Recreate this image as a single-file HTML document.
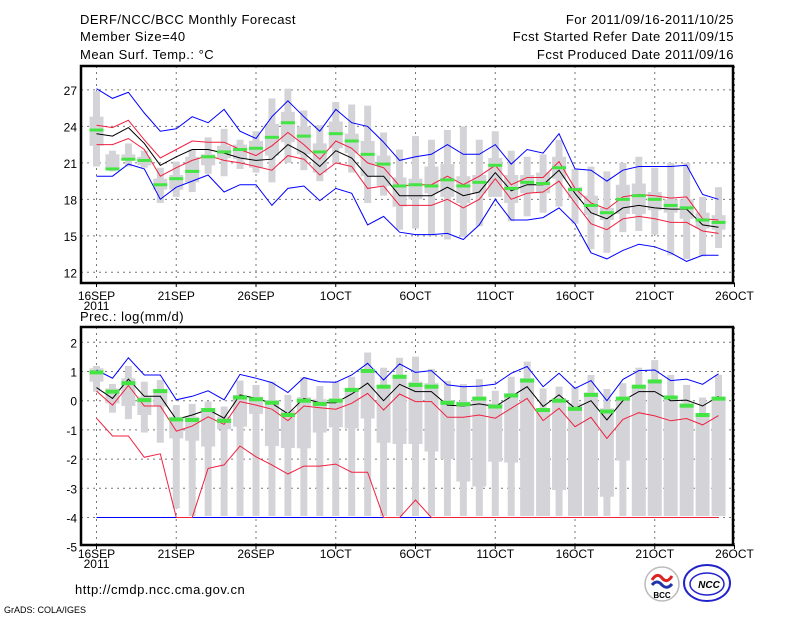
<!DOCTYPE html>
<html><head><meta charset="utf-8">
<style>
html,body{margin:0;padding:0;background:#fff;}
svg{display:block;}
text{font-family:"Liberation Sans",sans-serif;fill:#000;}
.hdr{letter-spacing:0.5px;}
</style></head>
<body>
<svg id="chart" width="800" height="618" viewBox="0 0 800 618" xmlns="http://www.w3.org/2000/svg">
<rect x="0" y="0" width="800" height="618" fill="#fff"/>
<text class="hdr" x="80" y="24" font-size="13">DERF/NCC/BCC Monthly Forecast</text>
<text class="hdr" x="80" y="41" font-size="13">Member Size=40</text>
<text class="hdr" x="80" y="59" font-size="13">Mean Surf. Temp.: °C</text>
<text class="hdr" x="734" y="24" font-size="13" text-anchor="end">For 2011/09/16-2011/10/25</text>
<text class="hdr" x="734" y="41" font-size="13" text-anchor="end">Fcst Started Refer Date 2011/09/15</text>
<text class="hdr" x="734" y="59" font-size="13" text-anchor="end">Fcst Produced Date 2011/09/16</text>
<text class="hdr" x="80" y="321" font-size="13">Prec.: log(mm/d)</text>
<text class="hdr" x="75" y="594" font-size="13">http://cmdp.ncc.cma.gov.cn</text>
<text x="4" y="613" font-size="9">GrADS: COLA/IGES</text>
<g>
<circle cx="662" cy="584" r="17" fill="#fff" stroke="#bbb" stroke-width="1.5"/>
<path d="M652 580 q5 -8 10 -2 q5 6 10 -2" fill="none" stroke="#d22" stroke-width="3"/>
<path d="M652 585 q5 -6 10 0 q5 5 10 -1" fill="none" stroke="#23a" stroke-width="3"/>
<text x="662" y="598" font-size="8" font-weight="bold" text-anchor="middle" fill="#123">BCC</text>
</g>
<g>
<ellipse cx="707" cy="583" rx="23" ry="18" fill="#fff" stroke="#22c" stroke-width="2"/>
<ellipse cx="707" cy="584" rx="17" ry="11" fill="none" stroke="#22c" stroke-width="1.5"/>
<text x="709" y="588" font-size="10" font-weight="bold" font-style="italic" text-anchor="middle" fill="#22c">NCC</text>
</g>
<g id="top"></g>
<g id="bot"></g>
</svg>
<script>
const dayLabels=["16SEP","21SEP","26SEP","1OCT","6OCT","11OCT","16OCT","21OCT","26OCT"];
const tTicks=[12,15,18,21,24,27];
const bTicks=[-5,-4,-3,-2,-1,0,1,2];
// Temperature series
const tBlueHi=[27.1,26.3,26.8,25.1,23.6,23.8,24.8,24.3,25.4,23.6,23.0,24.8,26.1,24.8,23.6,25.4,24.3,24.0,22.7,21.2,21.5,21.7,22.5,21.7,21.7,22.5,20.9,22.1,21.8,23.4,20.5,20.4,19.5,20.4,20.7,20.7,20.7,20.8,18.4,18.0];
const tBlueLo=[19.9,19.9,20.9,20.5,18.0,19.0,19.5,20.0,18.6,19.2,19.2,17.5,18.9,19.1,17.9,18.9,18.5,15.9,16.6,15.3,15.1,15.1,15.2,14.7,15.9,18.0,16.3,16.3,16.5,17.3,16.0,13.6,13.1,13.8,14.3,14.1,13.6,12.9,13.4,13.4];
const tBlack=[23.4,23.2,23.9,22.6,20.8,21.5,22.1,22.1,21.8,21.4,21.2,21.3,22.5,21.8,20.7,22.0,21.4,19.9,19.9,18.3,18.3,18.3,19.0,18.3,18.6,20.2,18.7,19.2,19.2,20.4,18.5,16.9,16.4,17.3,17.5,17.3,17.2,17.2,15.9,15.7];
const tRedHi=[24.1,23.9,24.5,22.9,21.4,22.1,22.8,22.7,22.7,22.1,21.6,22.4,23.5,22.5,21.3,22.8,22.2,21.0,20.6,19.1,19.2,19.2,19.9,19.2,19.9,20.8,19.2,19.8,19.8,21.1,18.9,17.7,17.2,18.2,18.4,18.3,18.1,18.2,16.4,16.3];
const tRedLo=[22.5,22.5,23.0,22.1,19.9,20.6,21.2,21.6,21.2,21.0,20.7,20.4,21.6,21.3,20.0,21.0,20.7,18.9,19.1,17.5,17.5,17.5,18.0,17.3,18.0,19.7,18.0,18.5,18.6,19.5,17.7,16.0,15.5,16.4,16.6,16.4,16.1,16.1,15.4,15.2];
const tGreen=[23.7,20.5,21.3,21.2,19.2,19.7,20.3,21.5,21.9,22.1,22.2,23.1,24.3,23.2,21.9,23.4,22.8,21.7,20.9,19.1,19.2,19.1,19.6,19.1,19.4,20.8,18.9,19.4,19.3,20.6,18.8,17.5,16.9,18.0,18.3,18.0,17.5,17.3,16.3,16.1];
const tMax=[26.9,22.0,22.6,22.0,20.6,21.1,22.1,23.1,23.8,22.9,23.6,26.3,27.1,25.3,24.1,26.0,25.8,25.7,23.5,22.1,23.2,22.9,23.7,24.0,22.9,23.6,22.0,21.5,21.7,22.9,20.5,20.7,20.3,21.0,21.5,20.6,21.0,21.0,18.2,19.0];
const tMin=[20.7,20.3,20.7,20.6,17.7,18.2,18.6,20.1,19.9,20.5,20.2,19.4,21.0,20.4,19.5,20.9,20.2,17.7,18.3,15.5,15.6,15.0,14.7,14.9,15.8,18.4,16.2,16.6,16.9,17.4,16.0,13.9,13.6,15.3,15.4,15.1,13.4,13.1,13.3,14.0];
const tQ3=[24.8,21.7,21.7,21.5,19.7,20.0,21.5,21.7,22.4,22.5,22.8,24.2,25.2,24.0,22.6,24.4,23.4,22.8,21.6,19.8,19.7,20.7,20.9,19.9,20.0,21.4,20.0,20.0,20.2,21.5,19.0,18.3,17.3,19.2,19.3,18.6,18.0,18.0,16.9,16.7];
const tQ1=[22.4,20.6,21.2,20.8,18.8,18.8,19.4,20.8,21.4,21.3,20.6,21.6,22.7,21.7,20.2,22.2,21.8,19.9,19.1,17.4,18.0,18.5,18.2,17.7,18.5,18.2,17.7,18.5,18.5,19.7,18.1,16.7,16.3,16.8,16.8,17.1,16.9,16.4,15.6,15.5];
// Precipitation series
const pBlueHi=[1.05,0.77,1.47,0.88,0.88,0.03,0.15,0.34,0.03,0.9,0.77,0.62,0.28,0.79,0.65,0.63,0.88,1.28,0.71,1.26,0.97,1.03,0.54,0.48,0.5,0.57,0.94,1.17,0.48,0.94,0.42,0.69,0.0,0.73,1.03,1.05,0.69,0.74,0.56,0.92];
const pBlueLo=[-4,-4,-4,-4,-4,-4,-4,-4,-4,-4,-4,-4,-4,-4,-4,-4,-4,-4,-4,-4,-4,-4,-4,-4,-4,-4,-4,-4,-4,-4,-4,-4,-4,-4,-4,-4,-4,-4,-4,-4];
const pBlack=[0.45,0.08,0.74,0.15,0.15,-0.64,-0.49,-0.3,-0.6,0.2,0.08,-0.09,-0.45,0.08,-0.07,-0.07,0.23,0.6,0.0,0.56,0.31,0.31,-0.15,-0.18,-0.11,-0.2,0.14,0.48,-0.2,0.2,-0.26,0.0,-0.66,0.0,0.31,0.31,0.0,0.02,-0.18,0.15];
const pRedHi=[0.33,-0.15,0.52,-0.18,-0.18,-1.04,-0.87,-0.55,-0.81,-0.03,-0.15,-0.29,-0.68,-0.18,-0.24,-0.29,-0.09,0.25,-0.32,0.23,-0.03,-0.03,-0.57,-0.57,-0.49,-0.6,-0.26,0.08,-0.68,-0.26,-0.89,-0.57,-1.29,-0.64,-0.41,-0.52,-0.69,-0.61,-0.83,-0.51];
const pRedLo=[-0.6,-1.21,-1.21,-1.94,-1.82,-4,-4,-2.32,-2.2,-1.55,-1.92,-2.2,-2.51,-2.24,-2.24,-2.17,-2.45,-2.45,-4,-4,-3.4,-4,-4,-4,-4,-4,-4,-4,-4,-4,-4,-4,-4,-4,-4,-4,-4,-4,-4,-4];
const pGreen=[0.97,0.31,0.6,0.02,0.33,-0.64,-0.66,-0.32,-0.69,0.11,0.05,-0.07,-0.49,0.0,-0.11,0.0,0.37,1.02,0.48,0.82,0.54,0.48,-0.07,-0.12,0.07,-0.2,0.18,0.69,-0.32,0.0,-0.28,0.2,-0.37,0.07,0.48,0.66,0.11,-0.17,-0.49,0.07];
const pMax=[1.19,0.57,1.19,0.65,0.71,-0.15,-0.11,-0.03,-0.2,0.69,0.54,0.65,0.2,0.8,0.5,0.65,0.82,1.65,1.13,1.47,1.51,1.09,0.68,0.57,0.74,0.34,0.82,1.34,0.42,0.48,0.48,0.88,0.4,0.6,1.13,1.39,0.88,0.54,0.11,0.88];
const pMin=[0.31,-0.41,-0.63,-1.09,-1.44,-3.69,-3.95,-3.95,-3.95,-3.95,-3.95,-3.95,-3.95,-3.95,-3.95,-3.95,-3.95,-3.95,-3.95,-3.95,-3.95,-3.95,-3.95,-3.95,-3.95,-3.95,-3.95,-3.95,-3.95,-3.95,-3.95,-3.95,-3.95,-3.95,-3.95,-3.95,-3.95,-3.95,-3.95,-3.95];
const pQ3=[1.11,0.42,0.77,0.14,0.39,-0.55,-0.55,-0.26,-0.55,0.2,0.14,0.02,-0.32,0.12,0.05,0.08,0.34,1.08,0.54,0.85,0.65,0.6,0.02,-0.03,0.14,-0.09,0.25,0.77,-0.32,0.08,-0.09,0.28,-0.26,0.14,0.54,0.71,0.12,-0.09,-0.49,0.14];
const pQ1=[0.65,-0.09,-0.18,-0.49,-0.2,-1.29,-1.37,-1.57,-0.98,-0.89,-0.45,-1.55,-1.62,-1.63,-1.09,-0.91,-0.95,-0.61,-1.44,-1.48,-1.48,-1.74,-2.0,-2.77,-2.94,-2.09,-2.12,-3.95,-3.95,-3.06,-3.95,-3.95,-3.29,-2.05,-3.95,-3.95,-3.95,-3.95,-3.95,-3.95];

const NS="http://www.w3.org/2000/svg";
const X0=81,X1=733;
function xd(d){return 96.5+d*15.95;}
function yT(v){return 272.3-(v-12)*12.16;}
function yB(v){return 342.3-(v-2)*29.2;}
function mk(parent,tag,attrs){const e=document.createElementNS(NS,tag);for(const k in attrs)e.setAttribute(k,attrs[k]);parent.appendChild(e);return e;}

function panel(g,ys,ticks,top,bot,s,prefix,labY,greenH){
  ticks.forEach(v=>{
    const y=ys(v);
    if(y>top+2&&y<bot-2){
      const l=mk(g,'line',{x1:X0,x2:X1,y1:y,y2:y,stroke:'#777','stroke-width':1,'stroke-dasharray':'2,4'});
      
      
    }
    const t=mk(g,'text',{x:77,y:y+5,'font-size':12,'text-anchor':'end'});
    t.textContent=String(v);
    
    
  });
  dayLabels.forEach((lab,i)=>{
    const x=xd(i*5);
    const l=mk(g,'line',{x1:x,x2:x,y1:top,y2:bot,stroke:'#777','stroke-width':1,'stroke-dasharray':'2,4'});
    
    
    const tk=mk(g,'line',{x1:x,x2:x,y1:bot,y2:bot+4,stroke:'#000','stroke-width':1});
    
    
    const t=mk(g,'text',{x:x,y:labY,'font-size':12,'text-anchor':'middle'});
    t.textContent=lab;
    
    
  });
  const yr=mk(g,'text',{x:xd(0),y:labY+10,'font-size':12,'text-anchor':'middle'});
  yr.textContent='2011';
  
  
  for(let d=0;d<s.max.length;d++){
    const x=xd(d);
    const r1=mk(g,'rect',{x:x-3.5,y:ys(s.max[d]),width:7,height:ys(s.min[d])-ys(s.max[d]),fill:'#d4d4d8'});
    
    
    const r2=mk(g,'rect',{x:x-7,y:ys(s.q3[d]),width:14,height:ys(s.q1[d])-ys(s.q3[d]),fill:'#d4d4d8'});
    
    
  }
  const lines=[[s.blueLo,'#00f',prefix+'-blue-lower-line'],[s.blueHi,'#00f',prefix+'-blue-upper-line'],[s.redLo,'#f02040',prefix+'-red-lower-line'],[s.redHi,'#f02040',prefix+'-red-upper-line'],[s.black,'#000',prefix+'-mean-line']];
  lines.forEach(([arr,c,n])=>{
    const p=mk(g,'polyline',{points:arr.map((v,d)=>xd(d).toFixed(1)+','+ys(v).toFixed(1)).join(' '),fill:'none',stroke:c,'stroke-width':1});
    
    
  });
  for(let d=0;d<s.green.length;d++){
    const r=mk(g,'rect',{x:xd(d)-7,y:ys(s.green[d])-greenH/2,width:14,height:greenH,fill:'#44e444'});
    
    
  }
  const f=mk(g,'rect',{x:X0,y:top,width:X1-X0,height:bot-top,fill:'none',stroke:'#000','stroke-width':2.5});
  
  
}
panel(document.getElementById('top'),yT,tTicks,66,283,{max:tMax,min:tMin,q3:tQ3,q1:tQ1,blueHi:tBlueHi,blueLo:tBlueLo,redHi:tRedHi,redLo:tRedLo,black:tBlack,green:tGreen},'temp',300,3);
panel(document.getElementById('bot'),yB,bTicks,327,545,{max:pMax,min:pMin,q3:pQ3,q1:pQ1,blueHi:pBlueHi,blueLo:pBlueLo,redHi:pRedHi,redLo:pRedLo,black:pBlack,green:pGreen},'prec',558,4);
</script>
</body></html>
